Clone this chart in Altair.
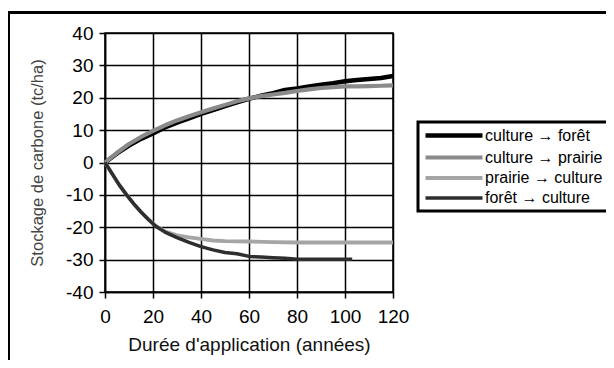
import altair as alt
import pandas as pd

series_names = ["culture → forêt", "culture → prairie", "prairie → culture", "forêt → culture"]

x_cf = [0, 5, 10, 15, 20, 25, 30, 35, 40, 45, 50, 55, 60, 65, 70, 75, 80, 85, 90, 95, 100, 105, 110, 115, 120]
y_cf = [0, 2.8, 5.2, 7.3, 9.0, 10.8, 12.3, 13.6, 15.0, 16.2, 17.4, 18.6, 19.7, 20.6, 21.4, 22.4, 22.9, 23.5, 24.0, 24.5, 25.1, 25.5, 25.8, 26.1, 26.7]

x_cp = [0, 5, 10, 15, 20, 25, 30, 35, 40, 45, 50, 55, 60, 65, 70, 75, 80, 85, 90, 95, 100, 105, 110, 115, 120]
y_cp = [0, 3.0, 5.7, 7.9, 9.8, 11.5, 13.0, 14.3, 15.5, 16.7, 17.8, 18.9, 19.8, 20.5, 21.0, 21.5, 22.1, 22.6, 23.0, 23.3, 23.5, 23.5, 23.6, 23.7, 23.8]

x_pc = [0, 3, 6, 9, 12, 15, 18, 21, 25, 30, 35, 40, 45, 50, 60, 70, 80, 90, 100, 110, 120]
y_pc = [0, -3.5, -7.0, -10.0, -12.8, -15.3, -17.5, -19.5, -21.3, -22.5, -23.1, -23.6, -24.1, -24.3, -24.4, -24.6, -24.7, -24.7, -24.7, -24.7, -24.7]

x_fc = [0, 3, 6, 9, 12, 15, 18, 21, 25, 30, 35, 40, 45, 50, 55, 60, 65, 70, 75, 80, 90, 103]
y_fc = [0, -3.5, -7.0, -10.0, -12.8, -15.3, -17.5, -19.6, -21.5, -23.2, -24.7, -26.0, -27.0, -27.8, -28.2, -29.0, -29.2, -29.4, -29.6, -29.9, -29.9, -29.9]

colors = ["#000000", "#8a8a8a", "#a5a5a5", "#2e2e2e"]
widths = [4.5, 3.5, 1.8, 2]

rows = []
for name, xs, ys in zip(series_names, [x_cf, x_cp, x_pc, x_fc], [y_cf, y_cp, y_pc, y_fc]):
    for i, (a, b) in enumerate(zip(xs, ys)):
        rows.append({"serie": name, "x": a, "y": b, "o": i})
df = pd.DataFrame(rows)

font = "Liberation Sans"

leg = dict(title=None, orient="none", legendX=313, legendY=89,
           symbolType="M-1,0H8.5", symbolSize=144, labelFontSize=16,
           labelFont=font, labelColor="#000000", rowPadding=4,
           strokeColor="#000000", padding=5, labelLimit=250, labelOffset=45)

lines = alt.Chart(df).mark_line(strokeJoin="round").encode(
    x=alt.X("x:Q", scale=alt.Scale(domain=[0, 120], nice=False),
            axis=alt.Axis(values=[0, 20, 40, 60, 80, 100, 120], title="Durée d'application (années)",
                          labelFontSize=19, titleFontSize=19, titlePadding=9, labelPadding=9,
                          labelFlush=False, labelOverlap=False,
                          gridColor="#000000", gridWidth=1.5, gridOpacity=1,
                          domainColor="#000000", domainWidth=1.5, tickColor="#000000", tickSize=6, tickWidth=1.5,
                          labelColor="#000000", titleColor="#111111", titleFontWeight="normal")),
    y=alt.Y("y:Q", scale=alt.Scale(domain=[-40, 40], nice=False),
            axis=alt.Axis(values=[-40, -30, -20, -10, 0, 10, 20, 30, 40], title="Stockage de carbone (tc/ha)",
                          labelExpr="replace(datum.label, '−', '-')",
                          labelFlush=False, labelOverlap=False,
                          labelFontSize=19, titleFontSize=16.5, titlePadding=20, labelPadding=6,
                          gridColor="#000000", gridWidth=1.5, gridOpacity=1,
                          domainColor="#000000", domainWidth=1.5, tickColor="#000000", tickSize=6, tickWidth=1.5,
                          labelColor="#000000", titleColor="#444444", titleFontWeight="normal")),
    color=alt.Color("serie:N", scale=alt.Scale(domain=series_names, range=colors),
                    legend=alt.Legend(**leg)),
    strokeWidth=alt.StrokeWidth("serie:N", scale=alt.Scale(domain=series_names, range=widths),
                                legend=alt.Legend(**leg)),
    order="o:Q",
)

frame = alt.Chart(pd.DataFrame({"a": [0]})).mark_rect(fill=None, stroke="#000000", strokeWidth=3).encode(
    x=alt.value(-96.5), x2=alt.value(600), y=alt.value(-20.5), y2=alt.value(400)
)

chart = alt.layer(lines, frame).properties(
    width=288, height=259,
    autosize=alt.AutoSizeParams(type="none"),
    padding={"left": 97, "top": 25, "right": 213, "bottom": 68},
).configure(font=font).configure_view(stroke="#000000", strokeWidth=1.5).configure_legend(
    strokeWidth=3
)

chart.save("out.html", embed_options={"renderer": "svg", "actions": False})
